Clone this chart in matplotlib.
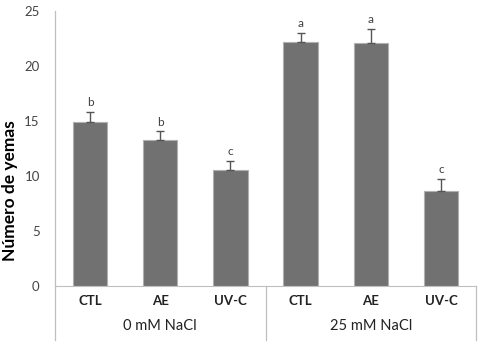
import matplotlib.pyplot as plt

plt.rcParams['font.family'] = ['Lato', 'DejaVu Sans']

categories = ['CTL', 'AE', 'UV-C', 'CTL', 'AE', 'UV-C']
groups = ['0 mM NaCl', '25 mM NaCl']
values = [14.9, 13.3, 10.5, 22.2, 22.1, 8.6]
errors = [0.9, 0.75, 0.9, 0.8, 1.3, 1.1]
letters = ['b', 'b', 'c', 'a', 'a', 'c']

fig = plt.figure(figsize=(4.83, 3.5), dpi=100)
ax = fig.add_axes([0.1139, 0.1829, 0.8716, 0.7857])

x = range(len(values))
ax.bar(x, values, width=0.49, color='#717171', edgecolor='#b0b0b0', linewidth=0.8,
       yerr=[[0] * len(errors), errors],
       error_kw=dict(ecolor='#555555', elinewidth=1, capsize=3, capthick=1))

for i, (v, e, l) in enumerate(zip(values, errors, letters)):
    ax.text(i, v + e + 0.35, l, ha='center', va='bottom', fontsize=8.5, color='#404040')

ax.set_xlim(-0.5, 5.5)
ax.set_ylim(0, 25)
ax.set_yticks([0, 5, 10, 15, 20, 25])
ax.tick_params(axis='y', length=0, labelsize=9.5, labelcolor='#444444', pad=11)
ax.tick_params(axis='x', length=0)
ax.set_xticks([])
fig.text(10 / 483, 1 - 191 / 350, 'Número de yemas', rotation=90, ha='center', va='center',
         fontsize=12.5, fontweight='bold')

for s in ['top', 'right', 'left']:
    ax.spines[s].set_visible(False)
ax.spines['bottom'].set_color('#bfbfbf')

# category labels and group separators under the axis
tr = ax.get_xaxis_transform()
for i, c in enumerate(categories):
    ax.text(i, -0.055, c, transform=tr, ha='center', va='center',
            fontsize=9.5, fontweight='bold', color='#222222')
for g, gx in zip(groups, [1, 4]):
    ax.text(gx, -0.145, g, transform=tr, ha='center', va='center',
            fontsize=10.5, color='#222222')
for sx in [-0.5, 2.5, 5.5]:
    top = 1.0 if sx == -0.5 else 0
    ax.plot([sx, sx], [-0.197, top], transform=tr, color='#bfbfbf', lw=0.9, clip_on=False)

fig.savefig('out.png', dpi=100)
